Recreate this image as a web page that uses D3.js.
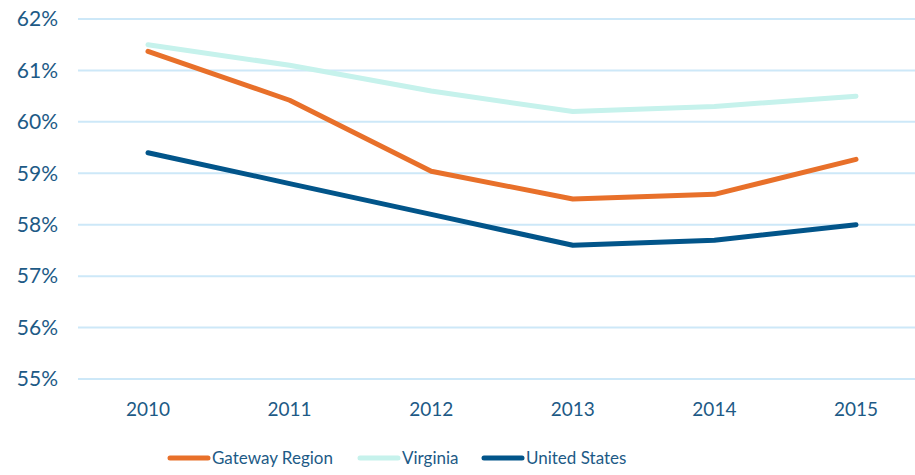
<!DOCTYPE html>
<html>
<head>
<meta charset="utf-8">
<script src="https://cdn.jsdelivr.net/npm/d3@7"></script>
<style>
  body { margin: 0; background: #fff; }
  svg { display: block; font-family: Lato, "Open Sans", sans-serif; }
</style>
</head>
<body>
<div id="chart"></div>
<script>
const width = 915;
const height = 475;

const years = ["2010", "2011", "2012", "2013", "2014", "2015"];
const gateway = [61.37, 60.42, 59.04, 58.50, 58.59, 59.27];
const virginia = [61.5, 61.1, 60.6, 60.2, 60.3, 60.5];
const unitedStates = [59.4, 58.8, 58.2, 57.6, 57.7, 58.0];
const yTicks = [55, 56, 57, 58, 59, 60, 61, 62];

const textColor = "#1d5a86";

const series = [
    {name: "Gateway Region", values: gateway, color: "#e8702a"},
    {name: "Virginia", values: virginia, color: "#c6f2ec"},
    {name: "United States", values: unitedStates, color: "#02558a"}
];

const svg = d3.select("#chart").append("svg")
    .attr("width", width)
    .attr("height", height);

const x = d3.scalePoint()
    .domain(years)
    .range([148, 856]);

const y = d3.scaleLinear()
    .domain([55, 62])
    .range([379, 19]);

// grid
svg.append("g")
    .selectAll("line")
    .data(yTicks)
    .join("line")
    .attr("x1", 78)
    .attr("x2", width)
    .attr("y1", d => y(d))
    .attr("y2", d => y(d))
    .attr("stroke", "#cde8f8")
    .attr("stroke-width", 2);

// y labels
svg.append("g")
    .selectAll("text")
    .data(yTicks)
    .join("text")
    .attr("x", 58)
    .attr("y", d => y(d))
    .attr("dy", "0.35em")
    .attr("text-anchor", "end")
    .style("fill", textColor)
    .style("font-size", "21px")
    .text(d => d + "%");

// x labels
svg.append("g")
    .selectAll("text")
    .data(years)
    .join("text")
    .attr("x", d => x(d))
    .attr("y", 416)
    .attr("text-anchor", "middle")
    .style("fill", textColor)
    .style("font-size", "19px")
    .text(d => d);

const line = d3.line()
    .x((d, i) => x(years[i]))
    .y(d => y(d));

// dessin des courbes
svg.append("g")
    .selectAll("path")
    .data(series)
    .join("path")
    .attr("fill", "none")
    .attr("stroke", d => d.color)
    .attr("stroke-width", 5)
    .attr("stroke-linecap", "round")
    .attr("stroke-linejoin", "round")
    .attr("d", d => line(d.values));

// legend
const legendX = [170, 360, 484];
const legend = svg.append("g")
    .selectAll("g")
    .data(series)
    .join("g")
    .attr("transform", (d, i) => `translate(${legendX[i]}, 458)`);

legend.append("line")
    .attr("x1", 0)
    .attr("x2", 38)
    .attr("stroke", d => d.color)
    .attr("stroke-width", 5)
    .attr("stroke-linecap", "round");

legend.append("text")
    .attr("x", 42)
    .attr("dy", "0.35em")
    .style("fill", textColor)
    .style("font-size", "17px")
    .text(d => d.name);
</script>
</body>
</html>
